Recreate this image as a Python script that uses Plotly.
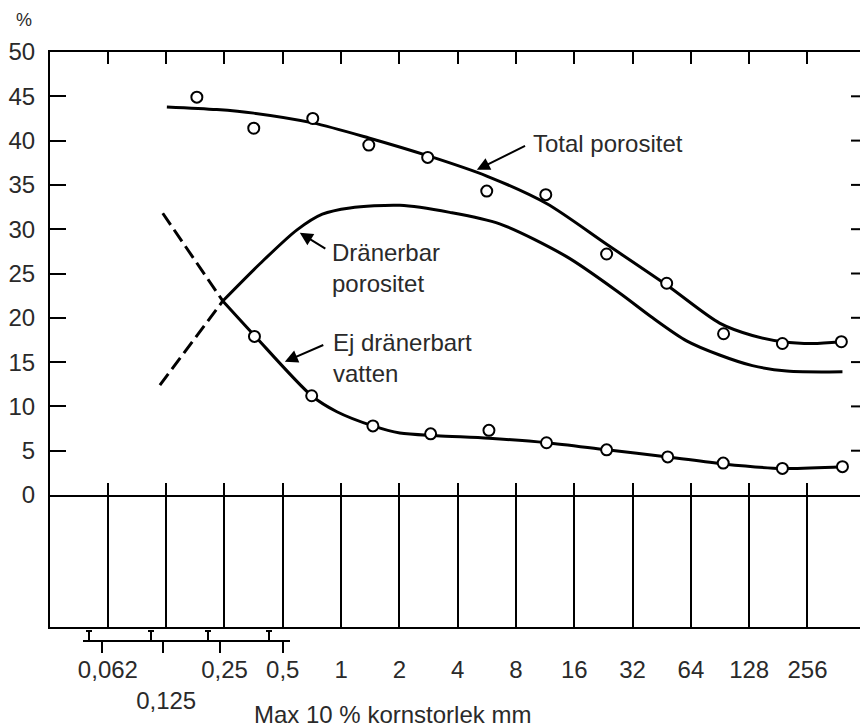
import math
import plotly.graph_objects as go

# ---- axes ----
tick_mm = [0.0625, 0.125, 0.25, 0.5, 1, 2, 4, 8, 16, 32, 64, 128, 256]
tick_text = ["0,062", " <br>0,125", "0,25", "0,5", "1", "2", "4", "8", "16", "32", "64", "128", "256"]
y_ticks = [0, 5, 10, 15, 20, 25, 30, 35, 40, 45, 50]
x_range_mm = [0.0314, 478]

# ---- measured points (circles) ----
total_obs_mm = [0.180, 0.354, 0.714, 1.39, 2.80, 5.65, 11.4, 23.5, 48.0, 94.4, 190, 383]
total_obs = [44.9, 41.4, 42.5, 39.5, 38.1, 34.3, 33.9, 27.2, 23.9, 18.2, 17.1, 17.3]

undr_obs_mm = [0.357, 0.705, 1.46, 2.90, 5.80, 11.5, 23.5, 48.6, 94.0, 190, 388]
undr_obs = [17.9, 11.2, 7.8, 6.9, 7.3, 5.9, 5.1, 4.3, 3.6, 3.0, 3.2]

# ---- fitted curves ----
total_mm = [0.126, 0.228, 0.354, 0.714, 1.39, 2.80, 5.65, 11.5, 23.5, 48.0, 90, 133, 190, 272, 383]
total_val = [43.8, 43.5, 43.1, 42.0, 40.3, 38.3, 36.0, 32.9, 28.3, 23.7, 19.4, 18.0, 17.3, 17.1, 17.3]

drain_dash_mm = [0.116, 0.245]
drain_dash_val = [12.4, 21.9]
drain_mm = [0.245, 0.381, 0.590, 0.800, 1.11, 2.01, 3.64, 6.59, 14.6, 27.4, 40.6, 60.8, 90, 133, 200, 388]
drain_val = [21.9, 26.1, 29.9, 31.7, 32.4, 32.7, 31.9, 30.6, 26.9, 22.8, 20.0, 17.4, 15.8, 14.6, 14.0, 13.9]

undr_dash_mm = [0.120, 0.245]
undr_dash_val = [31.8, 21.9]
undr_mm = [0.245, 0.357, 0.705, 0.951, 1.46, 2.01, 3.12, 5.80, 11.5, 23.5, 48.6, 94, 190, 388]
undr_val = [21.9, 18.0, 11.2, 9.4, 7.8, 7.0, 6.7, 6.4, 5.9, 5.1, 4.3, 3.5, 3.0, 3.2]

FONT = "Liberation Sans, Arial, Helvetica, sans-serif"
TXT = "#2a2a2a"
FS = 24
lw = 3

W, H = 860, 727
ML, MT, MB = 50, 52, 100

fig = go.Figure()

def line(x, y, dash=None):
    fig.add_trace(go.Scatter(x=x, y=y, mode="lines", xaxis="x", yaxis="y",
                             line=dict(color="black", width=lw, dash=dash or "solid",
                                       shape="linear" if dash else "spline", smoothing=0.8),
                             showlegend=False, hoverinfo="skip"))

line(drain_dash_mm, drain_dash_val, dash="14px,6px")
line(undr_dash_mm, undr_dash_val, dash="14px,6px")
line(total_mm, total_val)
line(drain_mm, drain_val)
line(undr_mm, undr_val)

for xs, ys in [(total_obs_mm, total_obs), (undr_obs_mm, undr_obs)]:
    fig.add_trace(go.Scatter(x=xs, y=ys, mode="markers", xaxis="x", yaxis="y",
                             marker=dict(symbol="circle", size=11, color="white",
                                         line=dict(color="black", width=2)),
                             showlegend=False, hoverinfo="skip"))

fig.add_trace(go.Scatter(x=[None], y=[None], xaxis="x2", yaxis="y2", showlegend=False))

lrange = [math.log10(x_range_mm[0]), math.log10(x_range_mm[1])]
split = 132 / 575

fig.update_layout(
    width=W, height=H,
    margin=dict(l=ML, r=0, t=MT, b=MB, autoexpand=False),
    paper_bgcolor="white", plot_bgcolor="white",
    font=dict(family=FONT, size=FS, color=TXT),
    xaxis=dict(type="log", range=lrange, domain=[0, 1], anchor="y", automargin=False,
               tickvals=tick_mm, showticklabels=False, ticks="inside", ticklen=12,
               tickwidth=2, tickcolor="black", showline=True, linewidth=2, linecolor="black",
               mirror="ticks", showgrid=False, zeroline=False),
    yaxis=dict(range=[0, 50], domain=[split, 1], anchor="x", tickvals=y_ticks, automargin=False,
               ticks="inside", ticklen=16, tickwidth=2, tickcolor="black",
               showline=True, linewidth=2, linecolor="black", showgrid=False, zeroline=False,
               ticklabelstandoff=8, tickfont=dict(size=FS, color=TXT)),
    xaxis2=dict(type="log", range=lrange, domain=[0, 1], anchor="y2", automargin=False,
                tickvals=tick_mm, ticktext=tick_text, ticks="", showline=True, tickangle=0,
                linewidth=2, linecolor="black", mirror=False, showgrid=True,
                gridcolor="black", gridwidth=2, zeroline=False, ticklabelstandoff=20,
                tickfont=dict(size=FS, color=TXT)),
    yaxis2=dict(range=[0, 1], domain=[0, split], anchor="x2", showticklabels=False,
                ticks="", showline=True, linewidth=2, linecolor="black", automargin=False,
                showgrid=False, zeroline=False),
)

def lg(v):
    return math.log10(v)

ann = []
ann.append(dict(text="Total porositet", x=lg(9.6), y=39.7, xref="x", yref="y",
                xanchor="left", yanchor="middle", showarrow=False))
ann.append(dict(text="Dränerbar<br>porositet", x=lg(0.88), y=25.6, xref="x", yref="y",
                xanchor="left", yanchor="middle", align="left", showarrow=False))
ann.append(dict(text="Ej dränerbart<br>vatten", x=lg(0.89), y=15.5, xref="x", yref="y",
                xanchor="left", yanchor="middle", align="left", showarrow=False))
for (hx, hy, tx, ty) in [(5.02, 36.7, 9.07, 39.5), (0.612, 29.6, 0.844, 27.7), (0.512, 15.05, 0.824, 17.0)]:
    ann.append(dict(text="", x=lg(hx), y=hy, ax=lg(tx), ay=ty, xref="x", yref="y",
                    axref="x", ayref="y", showarrow=True, arrowhead=2, arrowsize=1.3,
                    arrowwidth=2, arrowcolor="black"))

# page-pixel -> paper coordinates (plot area spans page x 50..860, y 52..627)
def px2x(p):
    return (p - 50) / 810

def py2y(p):
    return (627 - p) / 575

ann.append(dict(text="%", x=px2x(24), y=py2y(20), xref="paper", yref="paper",
                xanchor="center", yanchor="middle",
                showarrow=False, font=dict(size=18, color=TXT)))
ann.append(dict(text="Max 10 % kornstorlek mm", x=px2x(392), y=py2y(714),
                xref="paper", yref="paper", showarrow=False, xanchor="center", yanchor="middle",
                font=dict(size=FS, color=TXT)))
fig.update_layout(annotations=ann)

shapes = []
# right-hand inward ticks (no right frame line)
for v in y_ticks[1:-1]:
    shapes.append(dict(type="line", xref="paper", yref="y", x0=1 - 9 / 810, x1=1,
                       y0=v, y1=v, line=dict(color="black", width=2)))
# bracket decoration below the frame
shapes.append(dict(type="line", xref="paper", yref="paper", x0=px2x(83), x1=px2x(290),
                   y0=py2y(641), y1=py2y(641), line=dict(color="black", width=2)))
for p in [89, 151, 208, 269]:
    shapes.append(dict(type="line", xref="paper", yref="paper", x0=px2x(p), x1=px2x(p),
                       y0=py2y(641), y1=py2y(631), line=dict(color="black", width=2)))
    shapes.append(dict(type="line", xref="paper", yref="paper", x0=px2x(p - 3), x1=px2x(p + 3),
                       y0=py2y(631), y1=py2y(631), line=dict(color="black", width=2)))
for p in [102, 163, 220, 283]:
    shapes.append(dict(type="line", xref="paper", yref="paper", x0=px2x(p), x1=px2x(p),
                       y0=py2y(641), y1=py2y(653), line=dict(color="black", width=2)))
fig.update_layout(shapes=shapes)

# remove the browser's default 8 px body margin so the 860x727 figure fills the window
fig.write_html("out.html", config={"displayModeBar": False},
               post_script="document.body.style.margin='0';document.body.style.overflow='hidden';")
